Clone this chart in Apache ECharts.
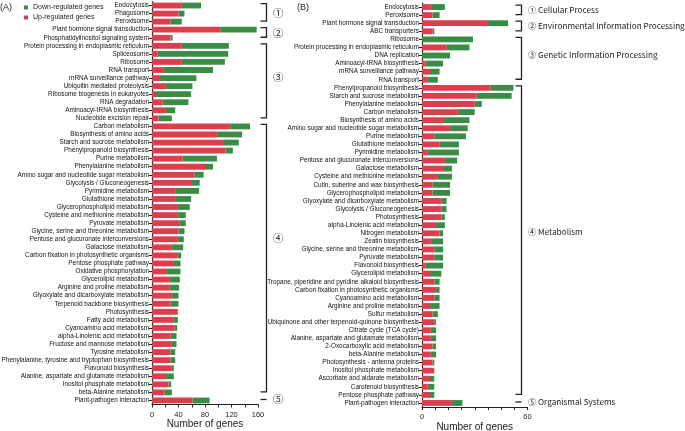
<!DOCTYPE html>
<html>
<head>
<meta charset="utf-8">
<script src="https://cdn.jsdelivr.net/npm/echarts@6/dist/echarts.min.js"></script>
<style>
  html, body { margin: 0; padding: 0; background: #fff; }
  #chart { width: 685px; height: 431px; }
</style>
</head>
<body>
<div id="chart"></div>
<script>
// panel A
var catsA = ["Endocytosis", "Phagosome", "Peroxisome", "Plant hormone signal transduction",
  "Phosphatidylinositol signaling system", "Protein processing in endoplasmic reticulum",
  "Spliceosome", "Ribosome", "RNA transport", "mRNA surveillance pathway",
  "Ubiquitin mediated proteolysis", "Ribosome biogenesis in eukaryotes", "RNA degradation",
  "Aminoacyl-tRNA biosynthesis", "Nucleotide excision repair", "Carbon metabolism",
  "Biosynthesis of amino acids", "Starch and sucrose metabolism", "Phenylpropanoid biosynthesis",
  "Purine metabolism", "Phenylalanine metabolism", "Amino sugar and nucleotide sugar metabolism",
  "Glycolysis / Gluconeogenesis", "Pyrimidine metabolism", "Glutathione metabolism",
  "Glycerophospholipid metabolism", "Cysteine and methionine metabolism", "Pyruvate metabolism",
  "Glycine, serine and threonine metabolism", "Pentose and glucuronate interconversions",
  "Galactose metabolism", "Carbon fixation in photosynthetic organisms", "Pentose phosphate pathway",
  "Oxidative phosphorylation", "Glycerolipid metabolism", "Arginine and proline metabolism",
  "Glyoxylate and dicarboxylate metabolism", "Terpenoid backbone biosynthesis", "Photosynthesis",
  "Fatty acid metabolism", "Cyanoamino acid metabolism", "alpha-Linolenic acid metabolism",
  "Fructose and mannose metabolism", "Tyrosine metabolism",
  "Phenylalanine, tyrosine and tryptophan biosynthesis", "Flavonoid biosynthesis",
  "Alanine, aspartate and glutamate metabolism", "Inositol phosphate metabolism",
  "beta-Alanine metabolism", "Plant-pathogen interaction"];
var upA = [45, 40, 28, 103, 28, 45, 8, 45, 18, 12, 21, 6, 16, 21, 10, 118, 98, 107, 111, 46,
  80, 64, 59, 35, 36, 38, 38, 42, 40, 39, 29, 38, 33, 21, 27, 26, 29, 28, 38, 33, 34, 28, 29,
  28, 28, 29, 21, 25, 19, 61];
var downA = [29, 9, 17, 55, 3, 71, 107, 65, 74, 55, 40, 53, 39, 14, 20, 30, 38, 24, 11, 52,
  12, 14, 13, 36, 23, 19, 13, 9, 9, 9, 18, 6, 10, 22, 15, 15, 11, 12, 1, 6, 4, 9, 8, 7, 7, 4,
  12, 4, 11, 26];
var ticksA = [0, 40, 80, 120, 160];

// panel B
var catsB = ["Endocytosis", "Peroxisome", "Plant hormone signal transduction", "ABC transporters",
  "Ribosome", "Protein processing in endoplasmic reticulum", "DNA replication",
  "Aminoacyl-tRNA biosynthesis", "mRNA surveillance pathway", "RNA transport",
  "Phenylpropanoid biosynthesis", "Starch and sucrose metabolism", "Phenylalanine metabolism",
  "Carbon metabolism", "Biosynthesis of amino acids", "Amino sugar and nucleotide sugar metabolism",
  "Purine metabolism", "Glutathione metabolism", "Pyrimidine metabolism",
  "Pentose and glucuronate interconversions", "Galactose metabolism",
  "Cysteine and methionine metabolism", "Cutin, suberine and wax biosynthesis",
  "Glycerophospholipid metabolism", "Glyoxylate and dicarboxylate metabolism",
  "Glycolysis / Gluconeogenesis", "Photosynthesis", "alpha-Linolenic acid metabolism",
  "Nitrogen metabolism", "Zeatin biosynthesis", "Glycine, serine and threonine metabolism",
  "Pyruvate metabolism", "Flavonoid biosynthesis", "Glycerolipid metabolism",
  "Tropane, piperidine and pyridine alkaloid biosynthesis",
  "Carbon fixation in photosynthetic organisms", "Cyanoamino acid metabolism",
  "Arginine and proline metabolism", "Sulfur metabolism",
  "Ubiquinone and other terpenoid-quinone biosynthesis", "Citrate cycle (TCA cycle)",
  "Alanine, aspartate and glutamate metabolism", "2-Oxocarboxylic acid metabolism",
  "beta-Alanine metabolism", "Photosynthesis - antenna proteins", "Inositol phosphate metabolism",
  "Ascorbate and aldarate metabolism", "Carotenoid biosynthesis", "Pentose phosphate pathway",
  "Plant-pathogen interaction"];
var upB = [5, 6, 37, 6, 0, 14, 0, 2, 4, 3, 39, 31, 30, 20, 12, 16, 7, 10, 3, 13, 12, 9, 6, 6,
  11, 11, 11, 8, 10, 5, 7, 7, 2, 4, 7, 8, 7, 4, 6, 7, 5, 5, 6, 5, 6, 7, 4, 3, 4, 17];
var downB = [8, 4, 12, 1, 29, 13, 16, 10, 6, 6, 13, 20, 4, 10, 15, 10, 18, 11, 18, 7, 5, 8, 10,
  10, 3, 3, 2, 5, 2, 7, 5, 5, 10, 7, 3, 2, 3, 6, 3, 1, 3, 3, 2, 3, 1, 0, 3, 4, 3, 6];
var ticksB = [0, 20, 40, 60];

// class groups: [first row, last row, label, row beside which the label sits]
var groupsA = [[0, 2, "①", 1], [3, 4, "②", 3.5], [5, 14, "③", 9], [15, 48, "④", 29],
  [49, 49, "⑤", 49]];
var groupsB = [[0, 1, "① Cellular Process", 0.5], [2, 3, "② Environmental Information Processing", 2.5],
  [4, 9, "③ Genetic Information Processing", 6], [10, 48, "④ Metabolism", 28],
  [49, 49, "⑤ Organismal Systems", 49]];

var red = "#db3e4d";
var green = "#3b8b47";
var black = "#222";
var narrow = "'Liberation Sans Narrow', 'Arial Narrow', Arial, sans-serif";
var cjk = "'Noto Sans CJK SC', sans-serif";

function valueAxis(idx, max, ticks) {
  return {
    type: "value",
    gridIndex: idx,
    min: 0,
    max: max,
    interval: max / 8,
    name: "Number of genes",
    nameLocation: "middle",
    nameGap: 15,
    nameMoveOverlap: false,
    nameTextStyle: { fontFamily: narrow, fontSize: 10, color: black },
    axisLine: { show: true, lineStyle: { color: black, width: 1 } },
    axisTick: { show: true, length: 3, lineStyle: { color: black } },
    axisLabel: {
      fontFamily: narrow, fontSize: 7.5, color: black, margin: 6,
      formatter: function(v) { return ticks.indexOf(v) >= 0 ? v : ""; }
    },
    splitLine: { show: false }
  };
}

function catAxis(idx, cats) {
  return {
    type: "category",
    gridIndex: idx,
    data: cats,
    inverse: true,
    axisLine: { show: true, lineStyle: { color: black, width: 1.2 } },
    axisTick: { show: true, length: 3, alignWithLabel: true, lineStyle: { color: black } },
    axisLabel: { fontFamily: narrow, fontSize: 6.4, color: "#111", margin: 3, interval: 0 }
  };
}

function barSeries(name, idx, data, color, stack) {
  return {
    name: name,
    type: "bar",
    stack: stack,
    xAxisIndex: idx,
    yAxisIndex: idx,
    barWidth: "72%",
    itemStyle: { color: color },
    data: data
  };
}

var chart = echarts.init(document.getElementById("chart"));
var option = {
  animation: false,
  legend: {
    data: ["Down-regulated genes", "Up-regulated genes"],
    orient: "vertical",
    left: 19,
    top: -1,
    icon: "rect",
    itemWidth: 4,
    itemHeight: 4,
    itemGap: 3,
    textStyle: { fontFamily: narrow, fontSize: 7, color: black }
  },
  grid: [
    { left: 152, width: 106, top: 1.5, height: 403, outerBoundsMode: "none" },
    { left: 422, width: 105.5, top: 3, height: 404, outerBoundsMode: "none" }
  ],
  xAxis: [valueAxis(0, 160, ticksA), valueAxis(1, 60, ticksB)],
  yAxis: [catAxis(0, catsA), catAxis(1, catsB)],
  series: [
    barSeries("Up-regulated genes", 0, upA, red, "a"),
    barSeries("Down-regulated genes", 0, downA, green, "a"),
    barSeries("Up-regulated genes", 1, upB, red, "b"),
    barSeries("Down-regulated genes", 1, downB, green, "b")
  ]
};
chart.setOption(option);

// brackets for the class groups, placed from the category axis
function brackets(groups, axisIdx, x, labelX, size) {
  var out = [];
  var y0 = chart.convertToPixel({ yAxisIndex: axisIdx }, 0);
  var step = chart.convertToPixel({ yAxisIndex: axisIdx }, 1) - y0;
  groups.forEach(function(g) {
    var y1 = y0 + g[0] * step;
    var y2 = y0 + g[1] * step;
    if (g[0] === g[1]) {
      out.push({ type: "line", shape: { x1: x - 6, y1: y1 - 1, x2: x, y2: y1 - 1 },
        style: { stroke: black, lineWidth: 1.3 } });
    } else {
      out.push({ type: "polyline",
        shape: { points: [[x - 6, y1 - 2], [x, y1 - 2], [x, y2 - 0.5], [x - 6, y2 - 0.5]] },
        style: { stroke: black, lineWidth: 1.3, fill: null } });
    }
    out.push({ type: "text", x: labelX, y: y0 + g[3] * step - 1,
      style: { text: g[2], fontFamily: cjk, fontSize: size, fill: black, verticalAlign: "middle" } });
  });
  return out;
}

var graphics = [
  { type: "text", x: 0, y: 3, style: { text: "(A)", fontFamily: narrow, fontSize: 9, fill: black } },
  { type: "text", x: 297, y: 3, style: { text: "(B)", fontFamily: narrow, fontSize: 9, fill: black } }
];
graphics = graphics.concat(brackets(groupsA, 0, 266.5, 273, 10.5));
graphics = graphics.concat(brackets(groupsB, 1, 521.5, 528, 8.2));
chart.setOption({ graphic: graphics });
</script>
</body>
</html>
